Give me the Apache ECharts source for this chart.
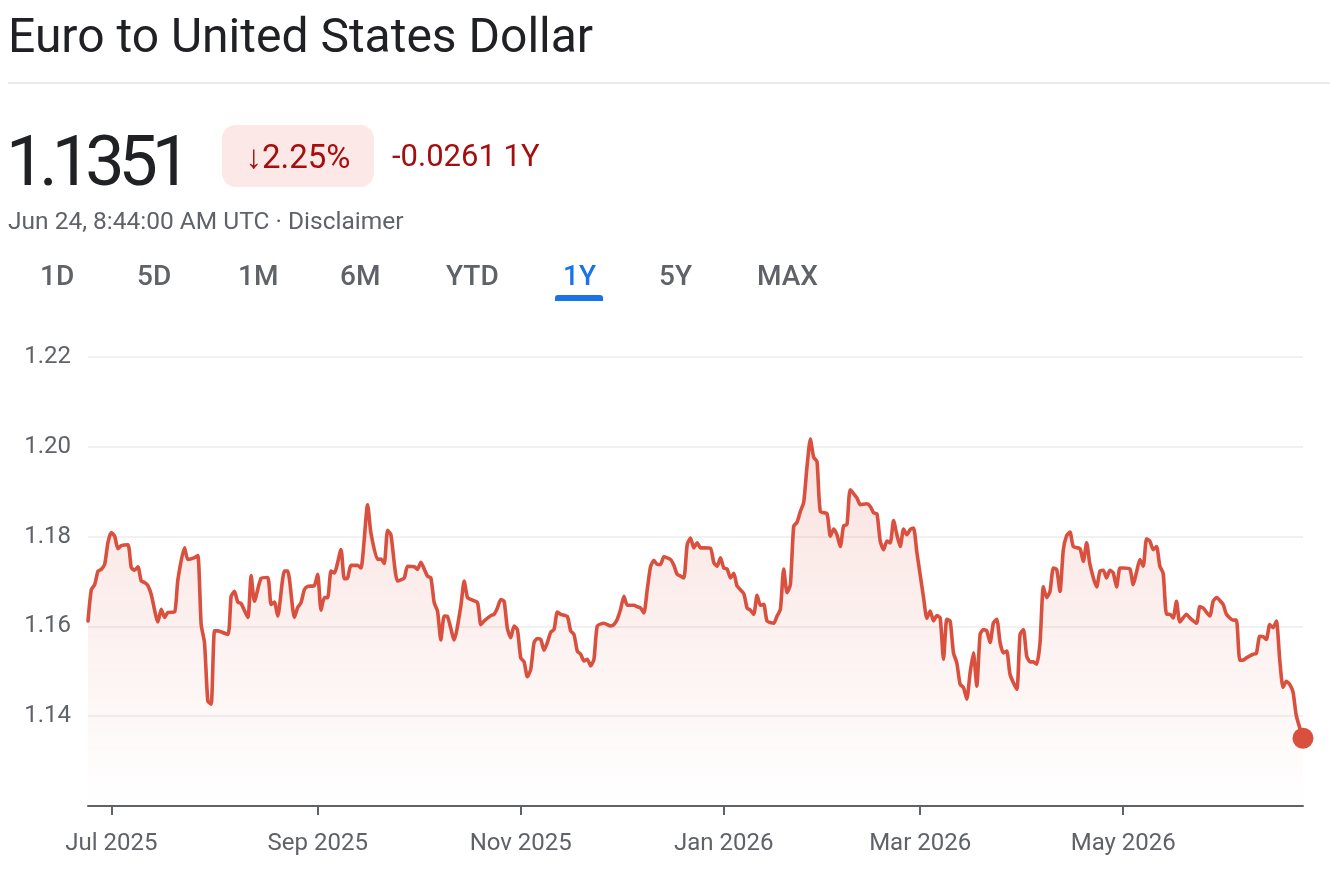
<!DOCTYPE html>
<html>
<head>
<meta charset="utf-8">
<script src="https://cdn.jsdelivr.net/npm/echarts@6/dist/echarts.min.js"></script>
<style>
  body { margin: 0; background: #fff; font-family: Roboto, "Noto Sans", sans-serif; }
  #page { position: relative; width: 1330px; height: 870px; overflow: hidden; }
  #chart { position: absolute; left: 0; top: 0; width: 1330px; height: 870px; }
  .abs { position: absolute; white-space: nowrap; }
  .title { left: 8px; top: 12px; font-size: 48px; line-height: 48px; color: #202124; }
  .divider { left: 8px; top: 82px; width: 1322px; height: 2px; background: #e8eaed; }
  .price { left: 6px; top: 126px; font-size: 70px; line-height: 70px; color: #202124; letter-spacing: -6px; }
  .badge { left: 222px; top: 125px; width: 152px; height: 62px; border-radius: 14px; background: #fce8e6;
           color: #a50e0e; font-size: 33px; display: flex; align-items: center; justify-content: center; }
  .change { left: 392px; top: 136px; font-size: 31px; line-height: 40px; color: #a50e0e; }
  .sub { left: 8px; top: 206px; font-size: 24.5px; line-height: 30px; color: #5f6368; }
  .tab { top: 259px; font-size: 28px; line-height: 34px; color: #5f6368; font-weight: 500; }
  .tab.on { color: #1a73e8; }
  .underline { left: 555px; top: 295px; width: 48px; height: 6px; border-radius: 3px 3px 0 0; background: #1a73e8; }
</style>
</head>
<body>
<div id="page">
  <div id="chart"></div>
  <div class="abs title">Euro to United States Dollar</div>
  <div class="abs divider"></div>
  <div class="abs price">1.1351</div>
  <div class="abs badge">↓2.25%</div>
  <div class="abs change">-0.0261 1Y</div>
  <div class="abs sub">Jun 24, 8:44:00 AM UTC · Disclaimer</div>
  <div class="abs tab" style="left:40px">1D</div>
  <div class="abs tab" style="left:137px">5D</div>
  <div class="abs tab" style="left:238px">1M</div>
  <div class="abs tab" style="left:340px">6M</div>
  <div class="abs tab" style="left:446px">YTD</div>
  <div class="abs tab on" style="left:563px">1Y</div>
  <div class="abs tab" style="left:659px">5Y</div>
  <div class="abs tab" style="left:757px">MAX</div>
  <div class="abs underline"></div>
</div>
<script>
// EUR/USD
const dates = [
  '2025-06-24','2025-06-25','2025-06-26','2025-06-27','2025-06-28','2025-06-29','2025-06-30',
  '2025-07-01','2025-07-02','2025-07-03','2025-07-04','2025-07-06','2025-07-07','2025-07-08','2025-07-09',
  '2025-07-10','2025-07-11','2025-07-12','2025-07-13','2025-07-15','2025-07-16','2025-07-17','2025-07-18',
  '2025-07-20','2025-07-21','2025-07-23','2025-07-24','2025-07-26','2025-07-27','2025-07-28','2025-07-29',
  '2025-07-30','2025-07-31',
  '2025-08-01','2025-08-02','2025-08-05','2025-08-06','2025-08-07','2025-08-08','2025-08-09','2025-08-11',
  '2025-08-12','2025-08-13','2025-08-15','2025-08-17','2025-08-18','2025-08-19','2025-08-20','2025-08-22',
  '2025-08-23','2025-08-25','2025-08-26','2025-08-27','2025-08-28','2025-08-29','2025-08-31',
  '2025-09-01','2025-09-02','2025-09-03','2025-09-04','2025-09-05','2025-09-06','2025-09-08','2025-09-09',
  '2025-09-10','2025-09-11','2025-09-13','2025-09-14','2025-09-16','2025-09-17','2025-09-19','2025-09-20',
  '2025-09-21','2025-09-22','2025-09-23','2025-09-25','2025-09-27','2025-09-28','2025-09-30',
  '2025-10-01','2025-10-02','2025-10-03','2025-10-04','2025-10-05','2025-10-06','2025-10-07','2025-10-08',
  '2025-10-09','2025-10-10','2025-10-12','2025-10-14','2025-10-15','2025-10-16','2025-10-17','2025-10-19',
  '2025-10-20','2025-10-21','2025-10-23','2025-10-24','2025-10-25','2025-10-26','2025-10-27','2025-10-28',
  '2025-10-29','2025-10-30','2025-10-31',
  '2025-11-01','2025-11-02','2025-11-03','2025-11-04','2025-11-05','2025-11-06','2025-11-07','2025-11-08',
  '2025-11-09','2025-11-10','2025-11-11','2025-11-12','2025-11-13','2025-11-15','2025-11-16','2025-11-17',
  '2025-11-18','2025-11-19','2025-11-20','2025-11-21','2025-11-22','2025-11-23','2025-11-24','2025-11-26',
  '2025-11-28','2025-11-29','2025-11-30',
  '2025-12-01','2025-12-02','2025-12-03','2025-12-05','2025-12-06','2025-12-07','2025-12-08','2025-12-09',
  '2025-12-10','2025-12-11','2025-12-12','2025-12-13','2025-12-14','2025-12-16','2025-12-17','2025-12-18',
  '2025-12-19','2025-12-20','2025-12-21','2025-12-22','2025-12-23','2025-12-24','2025-12-25','2025-12-26',
  '2025-12-28','2025-12-29','2025-12-30','2025-12-31',
  '2026-01-01','2026-01-02','2026-01-03','2026-01-04','2026-01-05','2026-01-07','2026-01-08','2026-01-09',
  '2026-01-10','2026-01-11','2026-01-12','2026-01-13','2026-01-14','2026-01-16','2026-01-17','2026-01-18',
  '2026-01-19','2026-01-20','2026-01-21','2026-01-22','2026-01-23','2026-01-24','2026-01-25','2026-01-26',
  '2026-01-27','2026-01-28','2026-01-29','2026-01-30',
  '2026-02-01','2026-02-02','2026-02-03','2026-02-04','2026-02-05','2026-02-06','2026-02-07','2026-02-08',
  '2026-02-10','2026-02-11','2026-02-13','2026-02-14','2026-02-15','2026-02-16','2026-02-17','2026-02-18',
  '2026-02-19','2026-02-20','2026-02-21','2026-02-22','2026-02-23','2026-02-24','2026-02-25','2026-02-26',
  '2026-02-27','2026-02-28',
  '2026-03-02','2026-03-03','2026-03-04','2026-03-05','2026-03-06','2026-03-07','2026-03-08','2026-03-09',
  '2026-03-10','2026-03-11','2026-03-12','2026-03-13','2026-03-14','2026-03-15','2026-03-16','2026-03-17',
  '2026-03-18','2026-03-19','2026-03-20','2026-03-21','2026-03-22','2026-03-23','2026-03-24','2026-03-25',
  '2026-03-26','2026-03-27','2026-03-28','2026-03-30','2026-03-31',
  '2026-04-01','2026-04-02','2026-04-03','2026-04-04','2026-04-05','2026-04-06','2026-04-07','2026-04-08',
  '2026-04-09','2026-04-10','2026-04-11','2026-04-12','2026-04-13','2026-04-14','2026-04-15','2026-04-16',
  '2026-04-18','2026-04-19','2026-04-20','2026-04-21','2026-04-23','2026-04-24','2026-04-25','2026-04-26',
  '2026-04-27','2026-04-28','2026-04-29','2026-04-30',
  '2026-05-01','2026-05-03','2026-05-04','2026-05-05','2026-05-06','2026-05-07','2026-05-08','2026-05-09',
  '2026-05-10','2026-05-11','2026-05-12','2026-05-13','2026-05-14','2026-05-15','2026-05-16','2026-05-17',
  '2026-05-18','2026-05-20','2026-05-21','2026-05-23','2026-05-24','2026-05-25','2026-05-27','2026-05-28',
  '2026-05-29','2026-05-31',
  '2026-06-01','2026-06-03','2026-06-04','2026-06-05','2026-06-06','2026-06-07','2026-06-09','2026-06-10',
  '2026-06-11','2026-06-12','2026-06-13','2026-06-14','2026-06-15','2026-06-16','2026-06-17','2026-06-18',
  '2026-06-19','2026-06-20','2026-06-21','2026-06-22','2026-06-24'
];
const rates = [
  1.1612,1.1682,1.1693,1.1723,1.1727,1.1738,1.1787,
  1.1809,1.1801,1.1773,1.1780,1.1782,1.1731,1.1725,1.1733,
  1.1701,1.1698,1.1691,1.1671,1.1610,1.1638,1.1620,1.1631,
  1.1632,1.1704,1.1775,1.1749,1.1753,1.1758,1.1604,1.1564,
  1.1434,1.1427,
  1.1590,1.1590,1.1582,1.1667,1.1678,1.1654,1.1651,1.1620,
  1.1713,1.1656,1.1707,1.1709,1.1649,1.1654,1.1623,1.1723,
  1.1723,1.1620,1.1642,1.1653,1.1682,1.1689,1.1691,
  1.1716,1.1636,1.1664,1.1664,1.1723,1.1719,1.1771,1.1706,
  1.1708,1.1736,1.1736,1.1730,1.1871,1.1808,1.1749,1.1750,
  1.1740,1.1814,1.1804,1.1701,1.1708,1.1734,1.1733,
  1.1727,1.1743,1.1728,1.1712,1.1708,1.1653,1.1634,1.1570,
  1.1623,1.1622,1.1570,1.1645,1.1701,1.1664,1.1660,1.1653,
  1.1604,1.1612,1.1624,1.1627,1.1641,1.1660,1.1656,1.1595,
  1.1575,1.1601,1.1593,
  1.1530,1.1521,1.1488,1.1504,1.1564,1.1573,1.1571,1.1547,
  1.1564,1.1587,1.1593,1.1632,1.1627,1.1622,1.1590,1.1582,
  1.1545,1.1538,1.1523,1.1527,1.1512,1.1527,1.1601,1.1607,
  1.1601,1.1604,1.1616,
  1.1638,1.1667,1.1647,1.1647,1.1644,1.1641,1.1630,1.1682,
  1.1733,1.1747,1.1738,1.1738,1.1755,1.1749,1.1736,1.1716,
  1.1712,1.1708,1.1782,1.1797,1.1775,1.1786,1.1775,1.1775,
  1.1774,1.1742,1.1734,1.1753,
  1.1730,1.1728,1.1708,1.1718,1.1690,1.1673,1.1641,1.1636,
  1.1627,1.1669,1.1647,1.1649,1.1612,1.1607,1.1623,1.1638,
  1.1728,1.1675,1.1693,1.1823,1.1832,1.1856,1.1876,1.1956,
  1.2017,1.1977,1.1967,1.1856,
  1.1851,1.1801,1.1817,1.1804,1.1778,1.1824,1.1827,1.1904,
  1.1886,1.1871,1.1873,1.1867,1.1853,1.1851,1.1790,1.1771,
  1.1790,1.1786,1.1836,1.1804,1.1778,1.1817,1.1804,1.1816,
  1.1819,1.1765,
  1.1665,1.1618,1.1634,1.1612,1.1624,1.1619,1.1527,1.1616,
  1.1612,1.1541,1.1519,1.1471,1.1464,1.1438,1.1497,1.1541,
  1.1467,1.1582,1.1593,1.1590,1.1564,1.1608,1.1616,1.1564,
  1.1541,1.1545,1.1493,1.1460,1.1582,
  1.1593,1.1534,1.1521,1.1521,1.1516,1.1564,1.1688,1.1664,
  1.1678,1.1730,1.1727,1.1678,1.1771,1.1802,1.1810,1.1778,
  1.1773,1.1745,1.1786,1.1738,1.1688,1.1723,1.1725,1.1708,
  1.1725,1.1719,1.1688,1.1730,
  1.1730,1.1728,1.1693,1.1721,1.1749,1.1734,1.1795,1.1790,
  1.1771,1.1778,1.1734,1.1718,1.1627,1.1627,1.1619,1.1656,
  1.1610,1.1627,1.1619,1.1607,1.1644,1.1641,1.1623,1.1656,
  1.1664,1.1649,
  1.1627,1.1614,1.1614,1.1525,1.1525,1.1530,1.1538,1.1540,
  1.1578,1.1577,1.1571,1.1604,1.1597,1.1612,1.1527,1.1464,
  1.1478,1.1471,1.1454,1.1401,1.1351
];
const monthTicks = ['2025-07-01','2025-09-01','2025-11-01','2026-01-01','2026-03-01','2026-05-01'];
const monthNames = ['Jan','Feb','Mar','Apr','May','Jun','Jul','Aug','Sep','Oct','Nov','Dec'];
const yTicks = { min: 1.12, max: 1.22, step: 0.02 };

const ts = s => new Date(s + 'T00:00:00Z').getTime();
const red = '#d9503f';
const gray = '#5f6368';

const n = Math.min(dates.length, rates.length);
const seriesData = dates.slice(0, n).map((d, i) => [ts(d), rates[i]]);
const last = seriesData[seriesData.length - 1];
const tickValues = monthTicks.map(ts);

const chart = echarts.init(document.getElementById('chart'));
chart.setOption({
  animation: false,
  grid: { left: 88, right: 27, top: 357, bottom: 64 },
  xAxis: {
    // timestamps on a value axis so the month ticks can be placed exactly
    type: 'value',
    min: ts(dates[0]),
    max: ts(dates[dates.length - 1]),
    axisLine: { lineStyle: { color: gray, width: 2 } },
    axisTick: { show: true, customValues: tickValues, length: 9, lineStyle: { color: gray, width: 2 } },
    axisLabel: {
      customValues: tickValues,
      margin: 26,
      color: gray,
      fontSize: 24,
      fontFamily: 'Roboto',
      formatter: v => {
        const d = new Date(v);
        return monthNames[d.getUTCMonth()] + ' ' + d.getUTCFullYear();
      }
    },
    splitLine: { show: false }
  },
  yAxis: {
    type: 'value',
    min: yTicks.min,
    max: yTicks.max,
    interval: yTicks.step,
    axisLine: { show: false },
    axisTick: { show: false },
    axisLabel: {
      showMinLabel: false,
      margin: 17,
      color: gray,
      fontSize: 24,
      fontFamily: 'Roboto',
      formatter: v => v.toFixed(2)
    },
    splitLine: { lineStyle: { color: '#f1f1f1', width: 2 } }
  },
  series: [
    {
      type: 'line',
      data: seriesData,
      showSymbol: false,
      smooth: 0.2,
      lineStyle: { color: red, width: 3.6, join: 'round', cap: 'round' },
      areaStyle: {
        origin: 'start',
        color: new echarts.graphic.LinearGradient(0, 0, 0, 1, [
          { offset: 0, color: 'rgba(217,80,63,0.24)' },
          { offset: 1, color: 'rgba(217,80,63,0.0)' }
        ])
      }
    },
    {
      type: 'scatter',
      data: [last],
      symbolSize: 21,
      itemStyle: { color: red, opacity: 1 },
      z: 5
    }
  ]
});
</script>
</body>
</html>
